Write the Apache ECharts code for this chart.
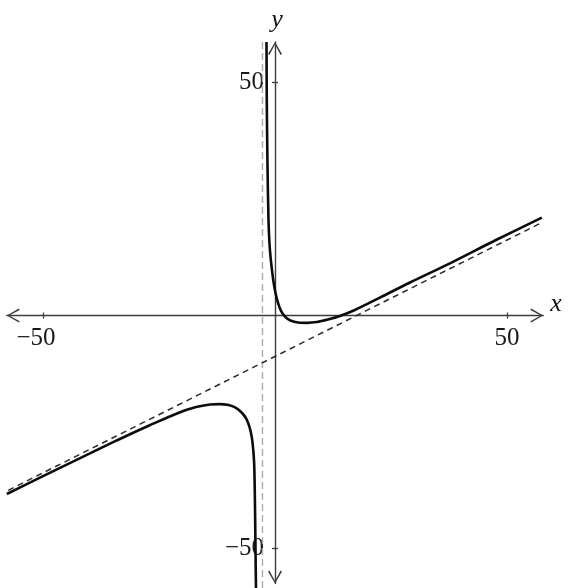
<!DOCTYPE html>
<html>
<head>
<meta charset="utf-8">
<script src="https://cdn.jsdelivr.net/npm/echarts@6/dist/echarts.min.js"></script>
<style>
  html, body { margin: 0; padding: 0; background: #ffffff; }
  #chart { width: 569px; height: 588px; }
</style>
</head>
<body>
<div id="chart"></div>
<script>
// Branch of the curve to the left of the vertical asymptote
const leftX = [-57.8, -50, -42, -34, -27, -21, -17, -14, -12, -10, -8.5, -7.2, -6.2, -5.5, -5.0, -4.7, -4.5, -4.4, -4.3, -4.2, -4.1];
const leftY = [-38.3, -34.45, -30.6, -26.75, -23.55, -20.95, -19.65, -19.1, -19.0, -19.2, -19.75, -20.8, -22.1, -23.9, -26.1, -28.7, -31.5, -35.3, -41.7, -50.3, -58.6];

// Branch of the curve to the right of the vertical asymptote
const rightX = [-1.83, -1.77, -1.63, -1.40, -1.18, -0.85, -0.40, 0.1, 0.65, 1.3, 2.2, 3.3, 5.0, 6.9, 9.0, 11.4, 14.0, 17.2, 22.6, 29.1, 37.7, 47.4, 57.5];
const rightY = [58.7, 46.0, 33.2, 20.5, 15.3, 11.5, 7.8, 4.9, 2.7, 1.0, -0.3, -1.05, -1.5, -1.57, -1.4, -0.86, -0.1, 1.2, 3.85, 7.1, 11.2, 16.1, 21.0];

// Vertical asymptote
const vAsymX = [-2.7, -2.7];
const vAsymY = [58.7, -58.6];

// Slant asymptote
const slantX = [-57.5, 57.2];
const slantY = [-37.5, 19.8];

// Axis extents and labelled ticks
const xRange = [-57.8, 57.8];
const yRange = [-57.5, 58.7];
const xTicks = [-50, 50];
const yTicks = [-50, 50];

const pairs = (xs, ys) => xs.map((x, i) => [x, ys[i]]);

const W = 569, H = 588;
const GRID = { left: 6.8, right: 25.8, top: 42, bottom: 4.5 };
const gridW = W - GRID.left - GRID.right;
const gridH = H - GRID.top - GRID.bottom;
// shift the axes from the grid edges onto the origin
const xAxisOffset = -gridH * (0 - yRange[0]) / (yRange[1] - yRange[0]);
const yAxisOffset = -gridW * (0 - xRange[0]) / (xRange[1] - xRange[0]);

const AXIS_COLOR = '#3c3c3c';
const SERIF = '"Liberation Serif", "DejaVu Serif", serif';
// open chevron arrow head, tip at the top
const CHEVRON = 'path://M7,0 L14,12 L12.6,12.9 L7,2.4 L1.4,12.9 L0,12 Z';

const fmt = v => (v < 0 ? '\u2212' + Math.abs(v) + '{h|\u2212}' : String(v));
const fmtY = v => (v < 0 ? '\u2212' + Math.abs(v) : String(v));

const axisLine = {
  show: true,
  onZero: false,
  symbol: [CHEVRON, CHEVRON],
  symbolSize: [14, 12.9],
  symbolOffset: [6.45, -6.45],
  lineStyle: { color: AXIS_COLOR, width: 1.4 }
};
const tick = inside => ({ show: true, length: 3, inside, lineStyle: { color: AXIS_COLOR, width: 1.3 } });

const chart = echarts.init(document.getElementById('chart'));
chart.setOption({
  backgroundColor: '#ffffff',
  animation: false,
  grid: Object.assign({ containLabel: false, outerBoundsMode: 'none' }, GRID),
  xAxis: [
    {
      type: 'value', position: 'bottom', offset: xAxisOffset,
      min: xRange[0], max: xRange[1],
      name: 'x', nameLocation: 'end', nameGap: 7,
      nameTextStyle: { fontFamily: SERIF, fontStyle: 'italic', fontSize: 26, color: '#111', verticalAlign: 'bottom', padding: [0, 0, -2, 0] },
      axisLine: axisLine,
      axisTick: Object.assign(tick(false), { customValues: xTicks }),
      axisLabel: { show: true, customValues: xTicks, formatter: fmt, margin: 10, fontFamily: SERIF, fontSize: 25, color: '#1a1a1a',
        rich: { h: { color: 'rgba(0,0,0,0)', fontFamily: SERIF, fontSize: 25 } } },
      splitLine: { show: false }
    },
    {
      type: 'value', position: 'bottom', offset: xAxisOffset,
      min: xRange[0], max: xRange[1],
      axisLine: { show: false, onZero: false },
      axisTick: Object.assign(tick(true), { customValues: xTicks }),
      axisLabel: { show: false },
      splitLine: { show: false }
    }
  ],
  yAxis: [
    {
      type: 'value', position: 'left', offset: yAxisOffset,
      min: yRange[0], max: yRange[1],
      name: 'y', nameLocation: 'end', nameGap: 9,
      nameTextStyle: { fontFamily: SERIF, fontStyle: 'italic', fontSize: 26, color: '#111', padding: [0, 0, 0, 4] },
      axisLine: axisLine,
      axisTick: Object.assign(tick(false), { customValues: yTicks }),
      axisLabel: { show: true, customValues: yTicks, formatter: fmtY, margin: 11, fontFamily: SERIF, fontSize: 25, color: '#1a1a1a' },
      splitLine: { show: false }
    },
    {
      type: 'value', position: 'left', offset: yAxisOffset,
      min: yRange[0], max: yRange[1],
      axisLine: { show: false, onZero: false },
      axisTick: Object.assign(tick(true), { customValues: yTicks }),
      axisLabel: { show: false },
      splitLine: { show: false }
    }
  ],
  series: [
    {
      name: 'vertical asymptote', type: 'line', clip: false, silent: true,
      data: pairs(vAsymX, vAsymY), showSymbol: false,
      lineStyle: { color: '#ababab', width: 1.4, type: [7, 4] }
    },
    {
      name: 'slant asymptote', type: 'line', clip: false, silent: true,
      data: pairs(slantX, slantY), showSymbol: false,
      lineStyle: { color: '#2a2a2a', width: 1.5, type: [6, 4.5] }
    },
    {
      name: 'left branch', type: 'line', clip: false, silent: true,
      data: pairs(leftX, leftY), showSymbol: false, smooth: 0.3,
      lineStyle: { color: '#0c0c0c', width: 2.6 }
    },
    {
      name: 'right branch', type: 'line', clip: false, silent: true,
      data: pairs(rightX, rightY), showSymbol: false, smooth: 0.3,
      lineStyle: { color: '#0c0c0c', width: 2.6 }
    }
  ]
});
</script>
</body>
</html>
